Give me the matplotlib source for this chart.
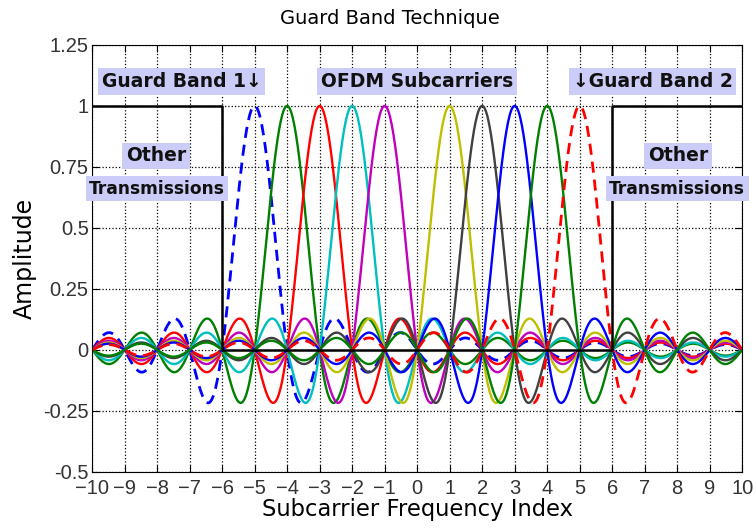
import numpy as np
import matplotlib.pyplot as plt

# subcarrier centres (no DC carrier at 0), colours and line styles
centres = [-5, -4, -3, -2, -1, 1, 2, 3, 4, 5]
colours = ['#0000ff', '#008000', '#ff0000', '#00bfbf', '#bf00bf',
           '#bfbf00', '#404040', '#0000ff', '#008000', '#ff0000']
styles = ['--', '-', '-', '-', '-', '-', '-', '-', '-', '--']

# guard band mask (other transmissions outside +-6)
mask_x = [-10, -6, -6, 6, 6, 10]
mask_y = [1, 1, 0, 0, 1, 1]

xticks = list(range(-10, 11))
yticks = [-0.5, -0.25, 0, 0.25, 0.5, 0.75, 1, 1.25]
ytick_labels = ['-0.5', '-0.25', '0', '0.25', '0.5', '0.75', '1', '1.25']

box_col = '#ccccf8'
lab_font = 'DejaVu Sans'


def main():
    fig = plt.figure(figsize=(7.55, 5.29), dpi=100)
    ax = fig.add_axes([0.122, 0.108, 0.861, 0.807])

    x = np.linspace(-10, 10, 801)
    for c, col, ls in zip(centres, colours, styles):
        if ls == '--':
            ax.plot(x, np.sinc(x - c), color=col, lw=2.0, dashes=(4, 2.5))
        else:
            ax.plot(x, np.sinc(x - c), color=col, lw=1.7)
    ax.plot(mask_x, mask_y, 'k-', lw=1.8)

    ax.set_xlim(-10, 10)
    ax.set_ylim(-0.5, 1.25)
    ax.set_xticks(xticks)
    ax.set_yticks(yticks)
    ax.set_yticklabels(ytick_labels)
    ax.tick_params(direction='in', top=True, right=True, length=5,
                   labelsize=14.5, pad=2.5)
    ax.tick_params(axis='x', pad=5)
    for lab in ax.get_xticklabels() + ax.get_yticklabels():
        lab.set_family('Liberation Sans')
        lab.set_color('#333333')
    ax.grid(True, ls=':', color='k', lw=0.9)

    bb = dict(facecolor=box_col, edgecolor='none', pad=2.5)
    kw = dict(ha='center', va='center', family=lab_font,
              fontweight='bold', bbox=bb, color='#111111')
    ax.text(-7.25, 1.1, 'Guard Band 1\u2193', fontsize=13.5, **kw)
    ax.text(0, 1.1, 'OFDM Subcarriers', fontsize=13.5, **kw)
    ax.text(7.25, 1.1, '\u2193Guard Band 2', fontsize=13.5, **kw)
    ax.text(-8.03, 0.795, 'Other', fontsize=13.5, **kw)
    ax.text(-8.0, 0.66, 'Transmissions', fontsize=12.3, **kw)
    ax.text(8.03, 0.795, 'Other', fontsize=13.5, **kw)
    ax.text(8.0, 0.66, 'Transmissions', fontsize=12.3, **kw)

    ax.text(0.458, 1.0 + 26 / 427, 'Guard Band Technique', transform=ax.transAxes,
            ha='center', va='center', family=lab_font, fontsize=14)
    ax.set_xlabel('Subcarrier Frequency Index', family=lab_font, fontsize=16.3)
    ax.xaxis.set_label_coords(0.5, -26 / 427)
    ax.set_ylabel('Amplitude', family=lab_font, fontsize=17)
    ax.yaxis.set_label_coords(-55 / 650, 0.5)

    fig.savefig('out.png', dpi=100)


if __name__ == '__main__':
    main()
